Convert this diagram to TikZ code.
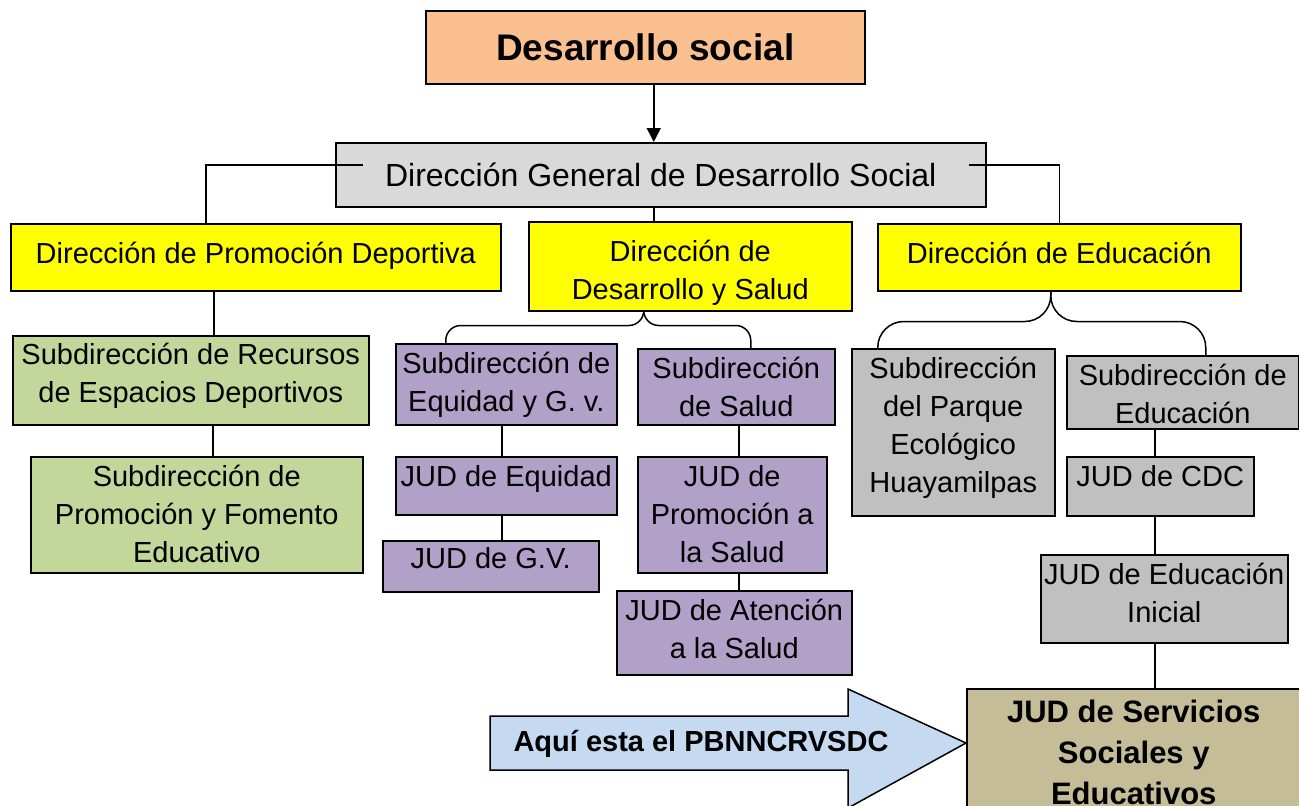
\documentclass[tikz,border=0pt]{standalone}
\usepackage{fontspec}
\setmainfont{Liberation Sans}
\usetikzlibrary{arrows.meta}

\definecolor{durazno}{HTML}{FAC090}
\definecolor{grisclaro}{HTML}{D9D9D9}
\definecolor{amarillo}{HTML}{FFFF00}
\definecolor{verde}{HTML}{C4D79B}
\definecolor{lila}{HTML}{B1A0C7}
\definecolor{gris}{HTML}{C0C0C0}
\definecolor{arena}{HTML}{C4BD97}
\definecolor{celeste}{HTML}{C5D9F1}

% [altura primera linea]{ancho}{alto}{texto}
\newcommand{\textocaja}[4][29.5]{\parbox[b][#3pt][t]{#2pt}{\centering\rule{0pt}{#1pt}#4}}

\tikzset{
  caja/.style={draw, line width=1.5pt, inner sep=0pt, anchor=north west,
    font=\fontsize{29}{38}\selectfont},
  linea/.style={line width=1.5pt},
  llave/.style={line width=1.5pt, rounded corners=#1},
}

\begin{document}
\begin{tikzpicture}[x=1pt, y=-1pt]
    \useasboundingbox (0,0) rectangle (1299,806);
    \clip (0,0) rectangle (1299,806);

    % cabeza
    \node[caja, fill=durazno, font=\bfseries\fontsize{37}{44}\selectfont] (titulo) at (425,10)
        {\textocaja[49.5]{439}{73}{Desarrollo social}};
    \node[caja, fill=grisclaro, font=\fontsize{32}{38}\selectfont] (dg) at (335,142)
        {\textocaja[43.5]{650}{64}{Dirección General de Desarrollo Social}};

    % direcciones
    \node[caja, fill=amarillo] (dpd) at (10,223) {\textocaja[39.5]{490}{67}{Dirección de Promoción Deportiva}};
    \node[caja, fill=amarillo] (dds) at (528,221) {\textocaja[39.5]{323}{89}{Dirección de\\Desarrollo y Salud}};
    \node[caja, fill=amarillo] (ded) at (877,223) {\textocaja[39.5]{363}{67}{Dirección de Educación}};

    % promocion deportiva
    \node[caja, fill=verde] (sred) at (12,335) {\textocaja[28.5]{356}{89}{Subdirección de Recursos\\de Espacios Deportivos}};
    \node[caja, fill=verde] (spfe) at (30,456) {\textocaja{332}{116}{Subdirección de\\Promoción y Fomento\\Educativo}};

    % desarrollo y salud
    \node[caja, fill=lila] (seg) at (395,343) {\textocaja{221}{81}{Subdirección de\\Equidad y G. v.}};
    \node[caja, fill=lila] (ssal) at (637,348) {\textocaja{197}{76}{Subdirección\\de Salud}};
    \node[caja, fill=lila] (jeq) at (395,456) {\textocaja{221}{58}{JUD de Equidad}};
    \node[caja, fill=lila] (jgv) at (382,540) {\textocaja[27.5]{216}{51}{JUD de G.V.}};
    \node[caja, fill=lila] (jps) at (637,456) {\textocaja{189}{116}{JUD de\\Promoción a\\la Salud}};
    \node[caja, fill=lila] (jas) at (616,590) {\textocaja{235}{84}{JUD de Atención\\a la Salud}};

    % educacion
    \node[caja, fill=gris] (spe) at (851,348) {\textocaja{203}{167}{Subdirección\\del Parque\\Ecológico\\Huayamilpas}};
    \node[caja, fill=gris] (sed) at (1066,355) {\textocaja{232}{73}{Subdirección de\\Educación}};
    \node[caja, fill=gris] (jcdc) at (1066,456) {\textocaja{187}{59}{JUD de CDC}};
    \node[caja, fill=gris] (jei) at (1040,554) {\textocaja{247}{88}{JUD de Educación\\Inicial}};
    \node[caja, fill=arena, font=\bfseries\fontsize{31}{41}\selectfont] (jsse) at (966,688)
        {\textocaja[34]{334}{150}{JUD de Servicios\\Sociales y\\Educativos}};

    % flecha
    \draw[line width=1.5pt, fill=celeste] (490,716) -- (848,716) -- (848,689) -- (jsse.west |- 0,743)
        -- (848,808) -- (848,770) -- (490,770) -- cycle;
    \node[font=\bfseries\fontsize{29}{35}\selectfont, anchor=base] (lema) at (701,751) {Aquí esta el PBNNCRVSDC};

    % conexiones
    \draw[linea, -{Triangle[width=14pt,length=14pt]}] ([xshift=8.5]titulo.south) -- ([xshift=8.5]titulo.south |- dg.north);
    \draw[linea] ([shift={(28,23)}]dg.north west) -| ([xshift=-50]dpd.north);
    \draw[linea] ([shift={(-18,23)}]dg.north east) -| (ded.north);
    \draw[linea] ([xshift=-7]dg.south) -- ([xshift=-7]dg.south |- dds.north);

    \draw[linea] ([xshift=-42]dpd.south) -- ([xshift=-42]dpd.south |- sred.north);
    \draw[linea] ([xshift=22]sred.south) -- ([xshift=22]sred.south |- spfe.north);

    \draw[llave=15] ([xshift=-46.5]dds.south) -- ++(0,14) -| ([xshift=-60.5]seg.north);
    \draw[llave=15] ([xshift=-46.5]dds.south) -- ++(0,14) -| ([xshift=14.5]ssal.north);
    \draw[linea] ([xshift=-4.5]seg.south) -- ([xshift=-4.5]seg.south |- jeq.north);
    \draw[linea] ([xshift=-4.5]jeq.south) -- ([xshift=-4.5]jeq.south |- jgv.north);
    \draw[linea] ([xshift=2.5]ssal.south) -- ([xshift=2.5]ssal.south |- jps.north);
    \draw[linea] ([xshift=6.5]jps.south) -- ([xshift=6.5]jps.south |- jas.north);

    \draw[llave=26] ([xshift=-8.5]ded.south) -- ++(0,30) -| ([xshift=-75.5]spe.north);
    \draw[llave=26] ([xshift=-8.5]ded.south) -- ++(0,30) -| ([xshift=23]sed.north);
    \draw[linea] ([xshift=-28]sed.south) -- ([xshift=-28]sed.south |- jcdc.north);
    \draw[linea] ([xshift=-5.5]jcdc.south) -- ([xshift=-5.5]jcdc.south |- jei.north);
    \draw[linea] ([xshift=-9.5]jei.south) -- ([xshift=-9.5]jei.south |- jsse.north);
\end{tikzpicture}
\end{document}
